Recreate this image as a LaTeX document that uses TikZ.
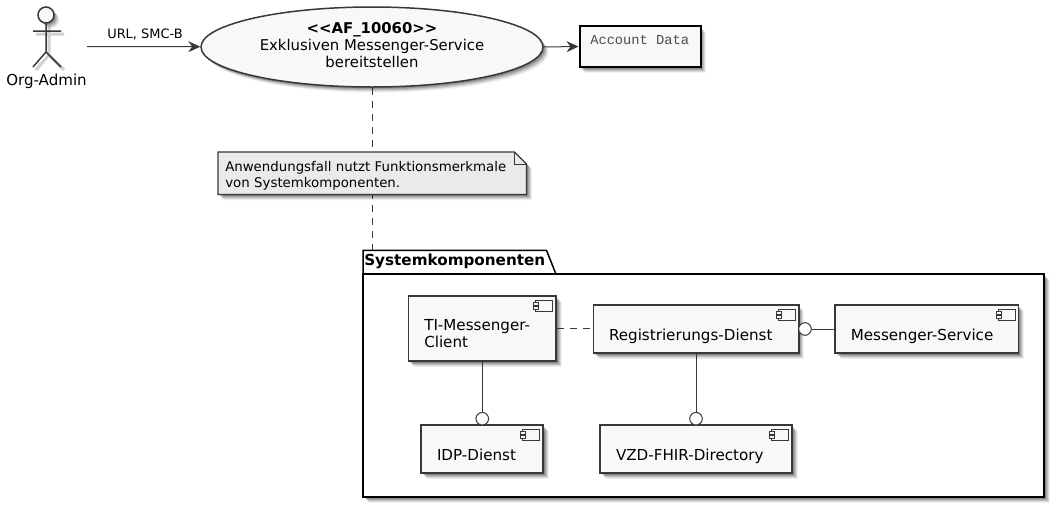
\documentclass[tikz,border=0pt]{standalone}
\usepackage{fontspec}
\setmainfont{DejaVu Sans}
\setmonofont{Liberation Mono}
\usetikzlibrary{calc,positioning,shadows,shapes.geometric,arrows.meta}
\pgfdeclarelayer{background layer}
\pgfsetlayers{background layer,main}
\definecolor{inner}{HTML}{F8F8F8}
\definecolor{line}{HTML}{383838}
\definecolor{notefill}{HTML}{EAEAEA}
\def\px{0.75pt}
\tikzset{
  softshadow/.style={
    drop shadow={shadow xshift=1.5*\px,shadow yshift=-1.5*\px,fill=black,opacity=.16},
    drop shadow={shadow xshift=2.5*\px,shadow yshift=-2.5*\px,fill=black,opacity=.15},
    drop shadow={shadow xshift=3.5*\px,shadow yshift=-3.5*\px,fill=black,opacity=.12},
    drop shadow={shadow xshift=4.5*\px,shadow yshift=-4.5*\px,fill=black,opacity=.09},
    drop shadow={shadow xshift=5.5*\px,shadow yshift=-5.5*\px,fill=black,opacity=.06}},
  comp/.style={rectangle,draw=line,fill=inner,line width=1.5*\px,softshadow,
    font=\fontsize{11.35}{12.8}\selectfont,align=left,inner sep=0pt},
  port/.style={circle,draw=line,fill=white,line width=\px,minimum size=12.6*\px,inner sep=0pt},
  conn/.style={draw=line,line width=\px},
  flow/.style={conn,-{Stealth[length=12*\px,width=11*\px,inset=4*\px]}},
  link/.style={conn,dash pattern=on 7*\px off 6*\px},
}
\newcommand{\compicon}[1]{
  \draw[draw=line,fill=inner,line width=1.25*\px] ([shift={(-21,5)}]#1.north east) rectangle ([shift={(-4,16)}]#1.north east);
  \draw[draw=line,fill=inner,line width=1.25*\px] ([shift={(-23,7.5)}]#1.north east) rectangle ([shift={(-18,10.5)}]#1.north east);
  \draw[draw=line,fill=inner,line width=1.25*\px] ([shift={(-23,11.5)}]#1.north east) rectangle ([shift={(-18,14.5)}]#1.north east);
}
\begin{document}
\begin{tikzpicture}[x=0.75pt,y=-0.75pt]
\useasboundingbox (0,0) rectangle (1060,504);
% top row
\begin{scope}[shift={(3,3)}]
\draw[black!18,line width=3*\px] (46,23) -- (46,52) (33,31) -- (61,31) (33,67) -- (46,52) -- (61,67);
\end{scope}
\node (head) [circle,draw=line,fill=inner,line width=1.5*\px,minimum size=16*\px,inner sep=0pt,softshadow] at (46,15) {};
\draw[draw=line,line width=1.5*\px] (head.south) -- (46,52) (33,31) -- (61,31) (33,67) -- (46,52) -- (61,67);
\node (admin) [font=\fontsize{11.3}{13}\selectfont] at (46.5,81) {Org-Admin};
\coordinate (start) at (87,46.5);
\node (uc) [ellipse,draw=line,fill=inner,line width=1.5*\px,minimum width=342*\px,minimum height=80*\px,inner sep=0pt,softshadow] at (372,47) {};
\node (uctext) [align=center,inner sep=0pt,font=\fontsize{11.15}{13}\selectfont] at ([yshift=1.5pt]uc) {\textbf{<{}<AF\_10060>{}>}\\Exklusiven Messenger-Service\\bereitstellen};
\node (acc) [rectangle,draw=black,fill=inner,line width=2*\px,minimum width=121*\px,minimum height=41*\px,inner sep=0pt,softshadow] at (640,46.5) {};
\node (acctext) [anchor=base west,inner sep=0pt,text=black!70,font=\ttfamily\fontsize{10.3}{12}\selectfont] at (590,44) {Account Data};
\draw[flow] (start) -- node [above=1pt,xshift=1pt,text=black,font=\fontsize{9.7}{12}\selectfont] {URL, SMC-B} (uc);
\draw[flow] (uc.east) -- (acc.west);

% package
\node (pkg) [rectangle,draw=black,fill=white,line width=2*\px,minimum width=681*\px,minimum height=223*\px,inner sep=0pt,softshadow] at (703.5,385.5) {};
\node (pkgtab) [anchor=south west,xshift=\px,inner sep=0pt,minimum width=183*\px,minimum height=22*\px,font=\bfseries\fontsize{11.4}{13}\selectfont] at (pkg.north west) {Systemkomponenten};
\draw[draw=black,line width=1.5*\px] (pkgtab.south west) -- (pkgtab.north west) -- (pkgtab.north east) -- ([xshift=9*\px]pkgtab.south east);

% dashed line and note
\node (note) [anchor=north west,minimum width=308*\px,minimum height=42*\px,inner sep=0pt,align=left,text width=294*\px,font=\fontsize{10}{12.3}\selectfont] at (218,152) {\rule{0pt}{11pt}Anwendungsfall nutzt Funktionsmerkmale\\von Systemkomponenten.};
\begin{pgfonlayer}{background layer}
\coordinate (pkgtop) at (pkgtab.north -| uc.south);
\draw[link] (uc.south) -- (pkgtop);
\draw[draw=line,fill=notefill,line width=1.25*\px,softshadow] (note.north west) -- ([xshift=-12*\px]note.north east) -- ([yshift=-12*\px]note.north east) -- (note.south east) -- (note.south west) -- cycle;
\draw[draw=line,line width=\px] ([xshift=-12*\px]note.north east) -- ([xshift=-12*\px,yshift=-12*\px]note.north east) -- ([yshift=-12*\px]note.north east);
\end{pgfonlayer}

% components
\node (tim) [comp,minimum width=147.5*\px,minimum height=65*\px,text width=116*\px] at (482.25,328.5) {\\[2.5pt]TI-Messenger-\\Client};
\node (reg) [comp,minimum width=205.5*\px,minimum height=48*\px,text width=174*\px,text height=18pt,text depth=1.5pt] at (696,329) {Registrierungs-Dienst};
\node (msg) [comp,minimum width=183.5*\px,minimum height=48*\px,text width=152*\px,text height=18pt,text depth=1.5pt] at (926.75,329) {Messenger-Service};
\node (idp) [comp,minimum width=122*\px,minimum height=48*\px,text width=90*\px,text height=18pt,text depth=1.5pt] at (482,449) {IDP-Dienst};
\node (vzd) [comp,minimum width=192*\px,minimum height=48*\px,text width=160*\px,text height=18pt,text depth=1.5pt] at (696,449) {VZD-FHIR-Directory};
\foreach \n in {tim,reg,msg,idp,vzd} {
  \compicon{\n}
}
\node (idpport) [port] at (482.25,418.7) {};
\node (vzdport) [port] at (696,418.7) {};
\node (regport) [port] at (805,329) {};
\draw[conn] (tim.south) -- (idpport.north);
\draw[conn] (reg.south) -- (vzdport.north);
\draw[conn] (msg.west) -- (regport.east);
\draw[link] (tim.east) -- (tim.east -| reg.west);
\end{tikzpicture}
\end{document}
